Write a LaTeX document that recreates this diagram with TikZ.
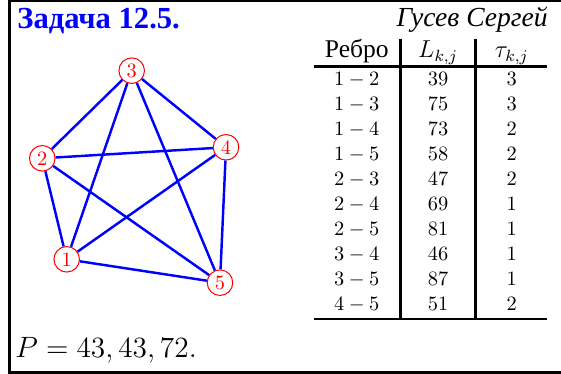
\documentclass[tikz,border=0pt]{standalone}
\usepackage[no-math]{fontspec}
\usepackage{amsmath}
\usepackage{array}
\usepackage{xcolor}
\usepackage{tikz}
\newfontfamily\cyrfont{Liberation Serif}
\definecolor{zdBlue}{RGB}{0,0,255}
\definecolor{zdRed}{RGB}{255,0,0}
\definecolor{zdInk}{RGB}{0,0,0}
\tikzset{
  zdvertex/.style={
    circle,
    draw=zdRed,
    fill=white,
    text=zdRed,
    line width=0.5pt,
    inner sep=0pt,
    minimum size=0.44cm
  },
  zdedge/.style={draw=zdBlue, line width=1.2pt},
  zdframe/.style={draw=zdInk, line width=1.2pt},
  zdtext/.style={inner sep=0pt, font=#1}
}

\begin{document}
\begin{tikzpicture}
  \useasboundingbox (0,0) rectangle (9.66,6.44);
  \draw[zdframe] (9.66,6.418) -- (0.16,6.418) -- (0.16,0.029) -- (9.66,0.029);

  \node[zdtext={\cyrfont\bfseries\fontsize{15}{18}\selectfont}, text=zdBlue, anchor=base west] (title) at (0.293,5.941) {Задача 12.5.};
  \node[zdtext={\cyrfont\itshape\fontsize{13.5}{16}\selectfont}, anchor=base east] (author) at (9.437,5.975) {Гусев Сергей};

  \node[zdvertex] (v1) at (1.149,1.975) {1};
  \node[zdvertex] (v2) at (0.728,3.714) {2};
  \node[zdvertex] (v3) at (2.268,5.223) {3};
  \node[zdvertex] (v4) at (3.892,3.904) {4};
  \node[zdvertex] (v5) at (3.788,1.572) {5};

  \draw[zdedge] (v1) -- (v2);
  \draw[zdedge] (v1) -- (v3);
  \draw[zdedge] (v1) -- (v4);
  \draw[zdedge] (v1) -- (v5);
  \draw[zdedge] (v2) -- (v3);
  \draw[zdedge] (v2) -- (v4);
  \draw[zdedge] (v2) -- (v5);
  \draw[zdedge] (v3) -- (v4);
  \draw[zdedge] (v3) -- (v5);
  \draw[zdedge] (v4) -- (v5);

  \node[inner sep=0pt, anchor=north west] (table) at (5.407,5.769) {%
    \setlength{\tabcolsep}{0pt}\setlength{\arrayrulewidth}{1.3pt}%
    \renewcommand{\arraystretch}{1.02}%
    \begin{tabular}{w{c}{41.5pt}|w{c}{35.5pt}|w{c}{34.2pt}}
      {\cyrfont\fontsize{12.5}{14}\selectfont Ребро} & {\large $L_{k,j}$} & {\large $\tau_{k,j}$} \\ \hline
      $1-2$ & $39$ & $3$ \\
      $1-3$ & $75$ & $3$ \\
      $1-4$ & $73$ & $2$ \\
      $1-5$ & $58$ & $2$ \\
      $2-3$ & $47$ & $2$ \\
      $2-4$ & $69$ & $1$ \\
      $2-5$ & $81$ & $1$ \\
      $3-4$ & $46$ & $1$ \\
      $3-5$ & $87$ & $1$ \\
      $4-5$ & $51$ & $2$ \\ \hline
    \end{tabular}};

  \node[zdtext=\Large, anchor=base west] (answer) at (0.258,0.276) {$P=43,43,72.$};
\end{tikzpicture}
\end{document}
